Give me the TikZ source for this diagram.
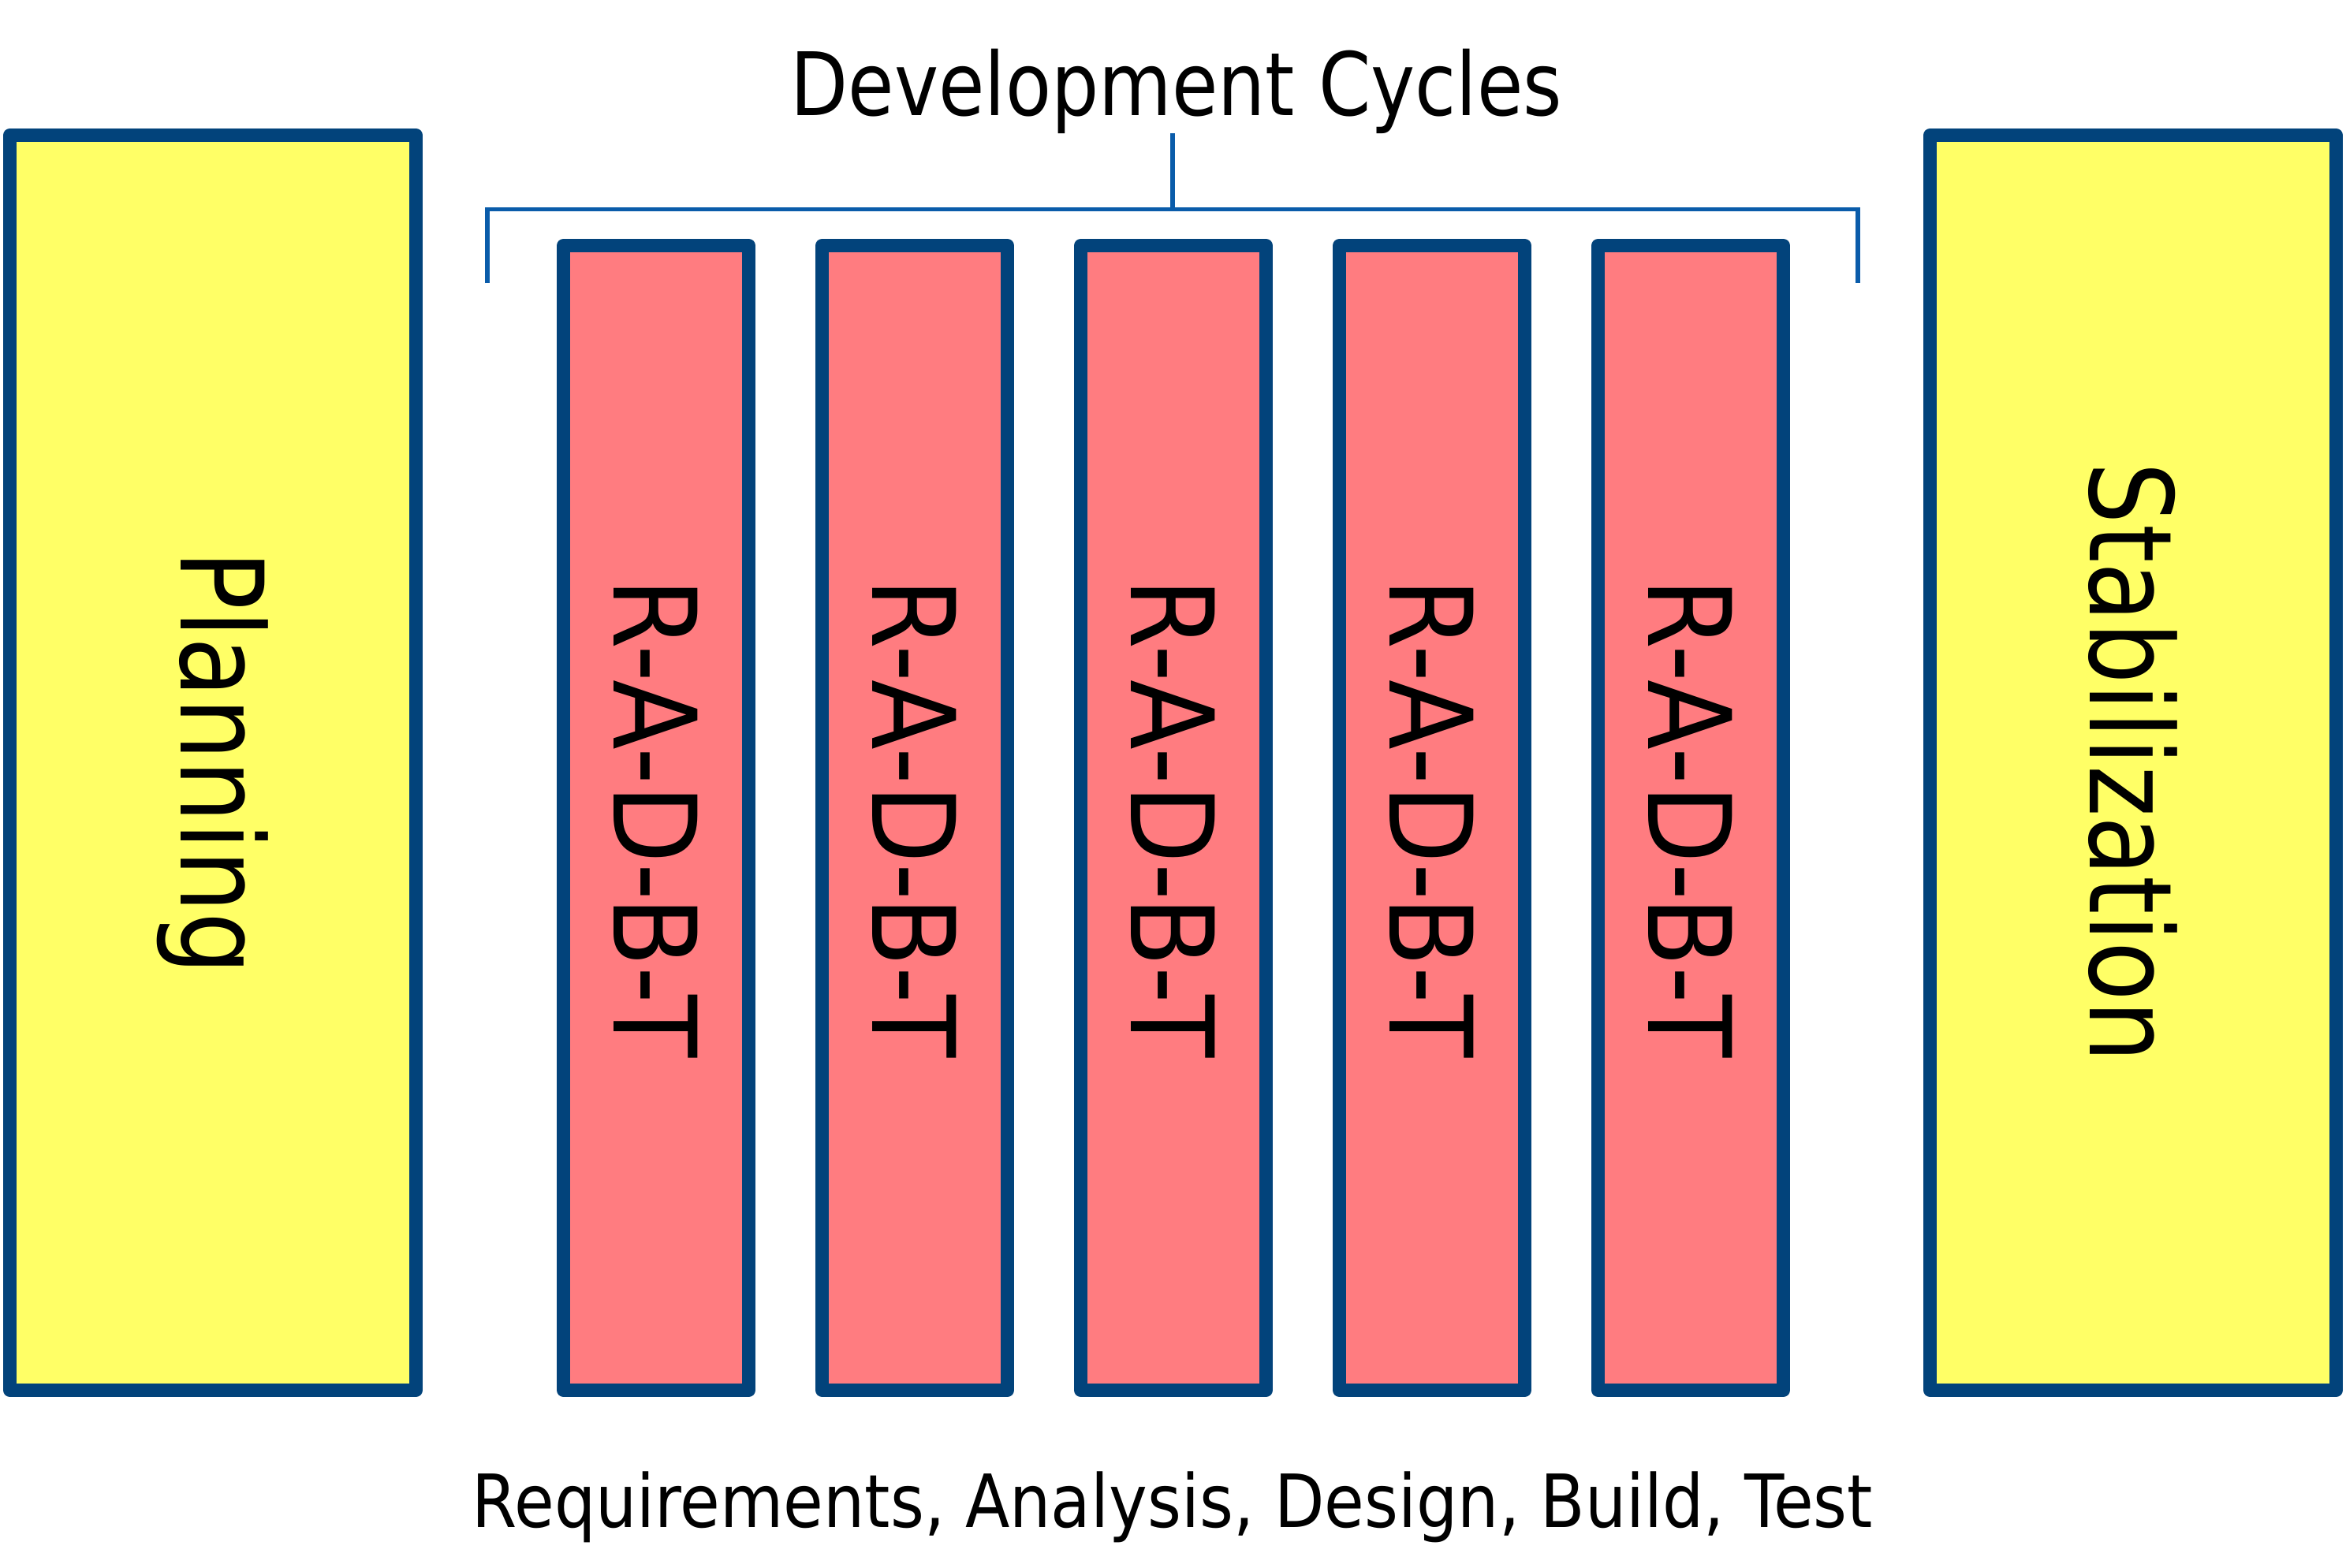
\documentclass[tikz,border=0pt]{standalone}
\usepackage{fontspec}
\setmainfont{DejaVu Sans}
\usepackage{graphicx}
\definecolor{boxborder}{RGB}{2,67,123}
\definecolor{boxyellow}{RGB}{255,255,102}
\definecolor{boxred}{RGB}{255,124,128}
\definecolor{bracketblue}{RGB}{10,92,170}
\tikzset{
  phasebox/.style={draw=boxborder, line width=0.17cm, line join=round, fill=boxyellow,
    minimum width=5.15cm, minimum height=15.92cm, inner sep=0pt},
  cyclebox/.style={draw=boxborder, line width=0.17cm, line join=round, fill=boxred,
    minimum width=2.35cm, minimum height=14.52cm, inner sep=0pt},
  vlabel/.style={rotate=-90, inner sep=0pt, font=\fontsize{41.5pt}{41.5pt}\selectfont},
  bracketline/.style={draw=bracketblue, line width=0.055cm},
}
\newcommand{\squeeze}[2]{\scalebox{#1}[1]{#2}}
\begin{document}
\begin{tikzpicture}
\useasboundingbox (0,0) rectangle (29.75,-19.88);
% side phases
\node[phasebox] (plan) at (2.70,-9.675) {};
\node[phasebox] (stab) at (27.05,-9.675) {};
\node[vlabel] (plantxt) at (plan.center) {\squeeze{0.855}{Planning}};
\node[vlabel] (stabtxt) at (stab.center) {\squeeze{0.847}{Stabilization}};
% development cycles
\foreach \i in {0,...,4} {
  \node[cyclebox] (c\i) at ({8.32+3.28*\i},-10.375) {};
  \node[vlabel] (ct\i) at (c\i.center) {\squeeze{0.89}{R-A-D-B-T}};
}
% title and bracket
\node[anchor=base, inner sep=0pt, font=\fontsize{31.6pt}{31.6pt}\selectfont] (title) at (14.92,-1.46) {\squeeze{0.855}{Development Cycles}};
\coordinate (stemtop) at (14.87,-1.69);
\coordinate (stembot) at (14.87,-2.655);
\coordinate (bl) at (6.18,-3.59);
\coordinate (blt) at (6.18,-2.655);
\coordinate (br) at (23.56,-3.59);
\coordinate (brt) at (23.56,-2.655);
\draw[bracketline] (bl) -- (blt) -- (brt) -- (br);
\draw[bracketline] (stemtop) -- (stembot);
% bottom caption
\node[anchor=base, inner sep=0pt, font=\fontsize{26.5pt}{26.5pt}\selectfont] (caption) at (14.87,-19.37) {\squeeze{0.885}{Requirements, Analysis, Design, Build, Test}};
\end{tikzpicture}
\end{document}
